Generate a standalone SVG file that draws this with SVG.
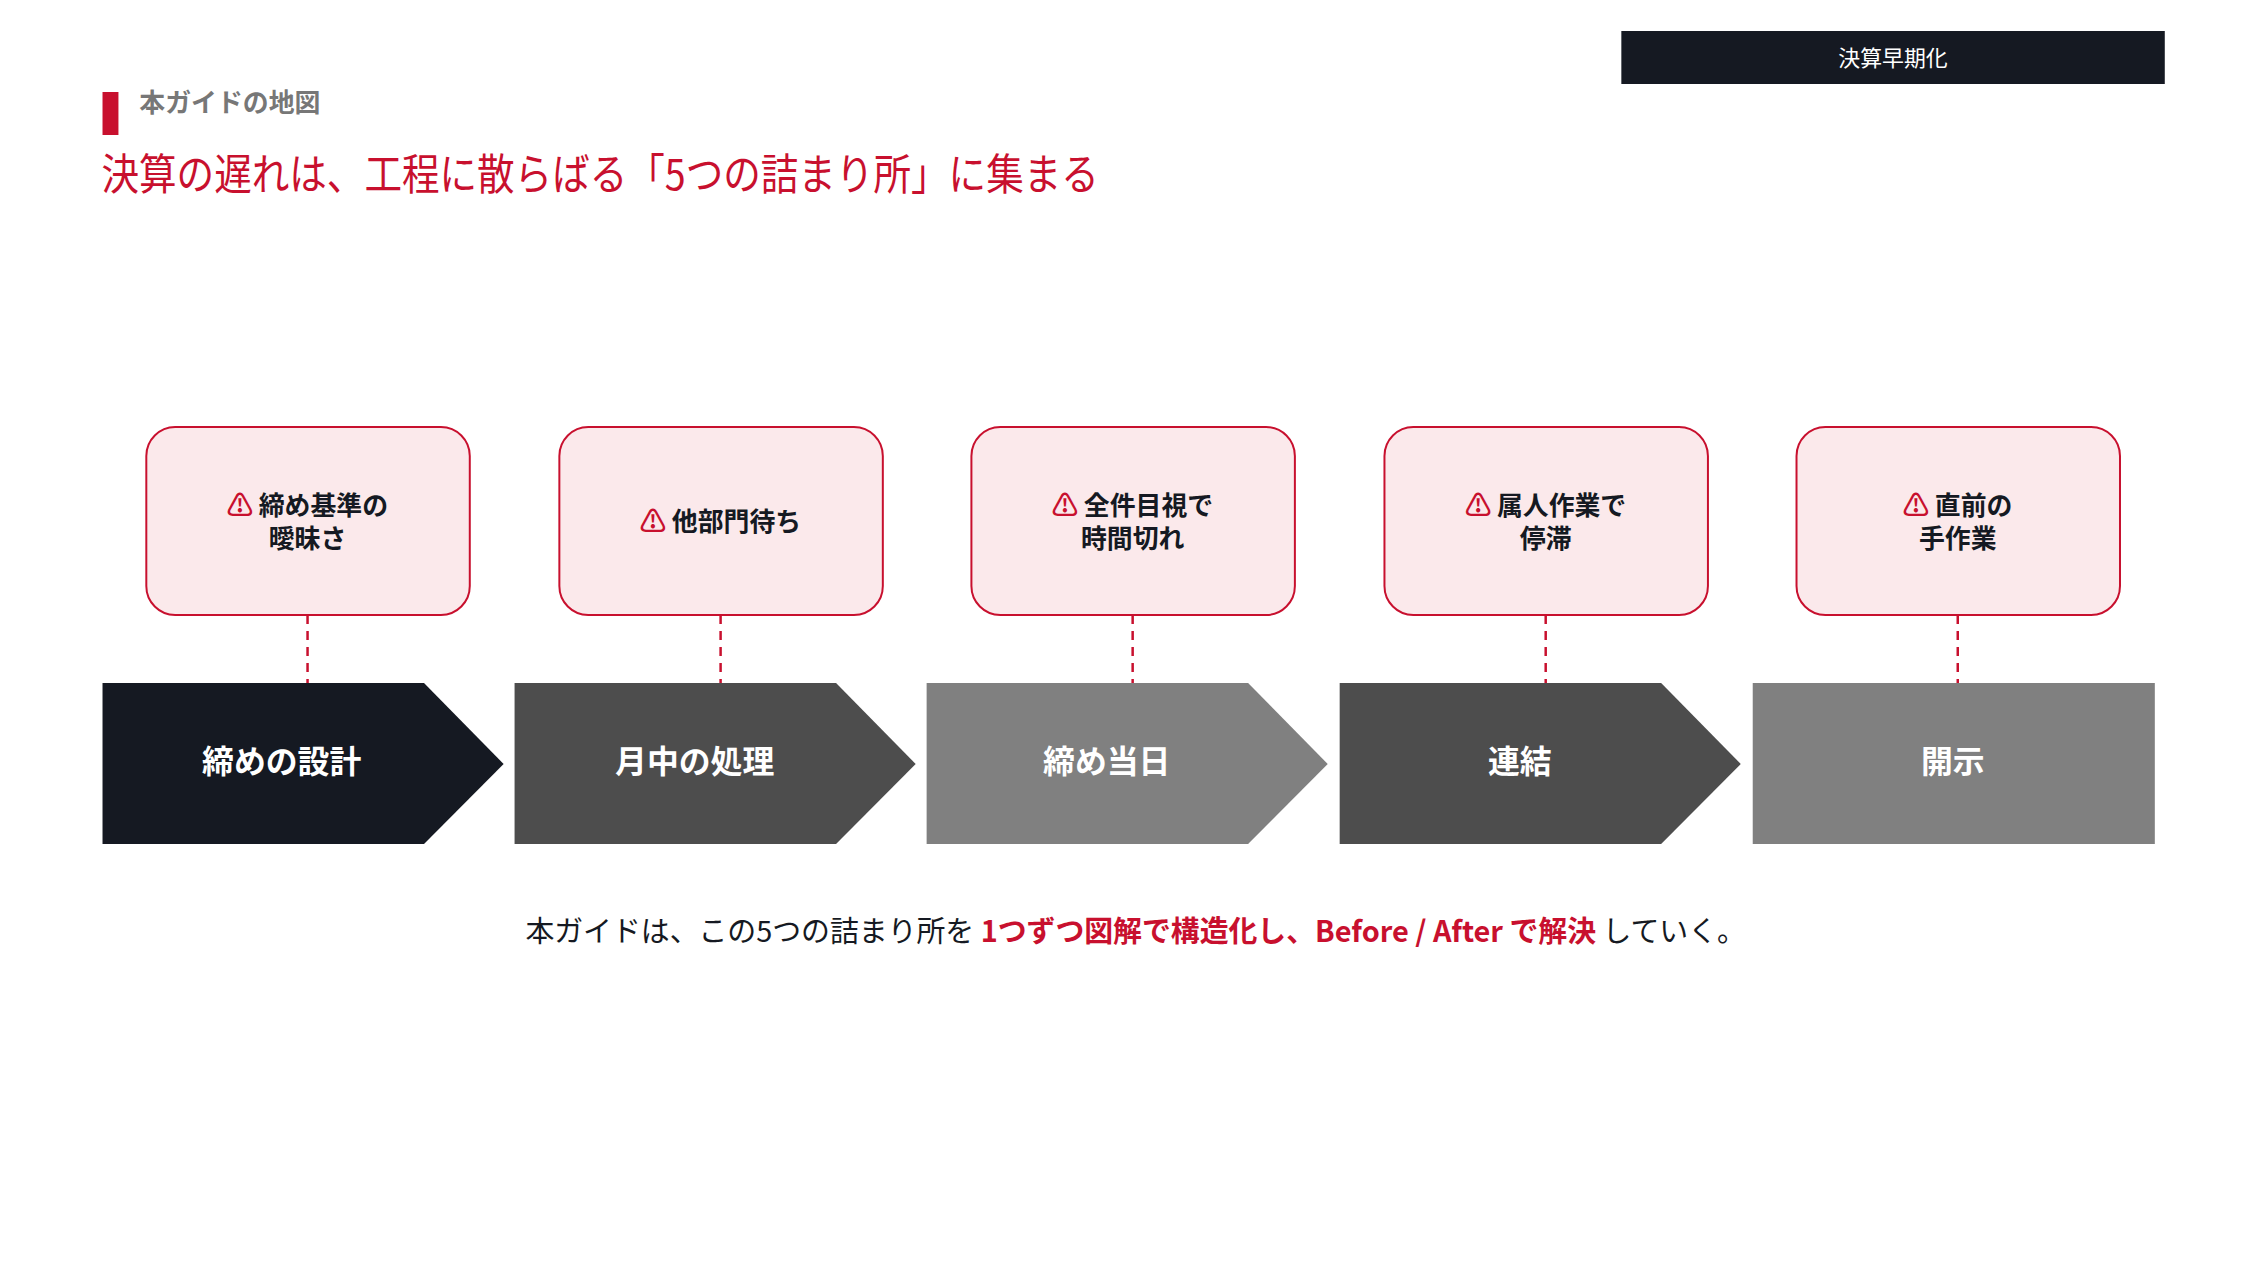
<svg xmlns="http://www.w3.org/2000/svg" width="2267" height="1275" viewBox="0 0 2267 1275">
<style>
text{font-family:"Noto Sans CJK JP","Noto Sans",sans-serif}
.box{fill:#FBE9EB;stroke:#C8102E;stroke-width:2}
.bt{font-size:26px;font-weight:700;fill:#151922;text-anchor:middle}
.warn{fill:#C8102E}
.ct{font-size:32px;font-weight:700;fill:#fff;text-anchor:middle}
.dash{stroke:#C8102E;stroke-width:2.5;stroke-dasharray:9 7}
</style>
<rect width="2267" height="1275" fill="#fff"/>
<g transform="scale(0.9953 1)">
<rect x="103" y="92" width="16" height="43" fill="#C8102E"/>
<text x="140" y="112" font-size="26" font-weight="700" fill="#777">本ガイドの地図</text>
<text x="102" y="190" font-size="43" fill="#C8102E" textLength="1002" lengthAdjust="spacingAndGlyphs">決算の遅れは、工程に散らばる「5つの詰まり所」に集まる</text>
<g id="banner"><rect x="1629" y="31" width="546" height="53" fill="#151922"/><text x="1902" y="66" font-size="22" fill="#fff" text-anchor="middle">決算早期化</text></g>
<g id="connectors">
<line class="dash" x1="309" y1="615" x2="309" y2="683"/>
<line class="dash" x1="724" y1="615" x2="724" y2="683"/>
<line class="dash" x1="1138" y1="615" x2="1138" y2="683"/>
<line class="dash" x1="1553" y1="615" x2="1553" y2="683"/>
<line class="dash" x1="1967" y1="615" x2="1967" y2="683"/>
</g>
<g id="b1"><rect class="box" x="147" y="427" width="325" height="188" rx="29"/><text class="bt" x="309" y="515"><tspan class="warn">⚠</tspan> 締め基準の</text><text class="bt" x="309" y="548">曖昧さ</text></g>
<g id="b2"><rect class="box" x="562" y="427" width="325" height="188" rx="29"/><text class="bt" x="724" y="531"><tspan class="warn">⚠</tspan> 他部門待ち</text></g>
<g id="b3"><rect class="box" x="976" y="427" width="325" height="188" rx="29"/><text class="bt" x="1138" y="515"><tspan class="warn">⚠</tspan> 全件目視で</text><text class="bt" x="1138" y="548">時間切れ</text></g>
<g id="b4"><rect class="box" x="1391" y="427" width="325" height="188" rx="29"/><text class="bt" x="1553" y="515"><tspan class="warn">⚠</tspan> 属人作業で</text><text class="bt" x="1553" y="548">停滞</text></g>
<g id="b5"><rect class="box" x="1805" y="427" width="325" height="188" rx="29"/><text class="bt" x="1967" y="515"><tspan class="warn">⚠</tspan> 直前の</text><text class="bt" x="1967" y="548">手作業</text></g>
<g id="c1"><path d="M103 683H426L506 764L426 844H103Z" fill="#151922"/><text class="ct" x="283" y="773">締めの設計</text></g>
<g id="c2"><path d="M517 683H840L920 764L840 844H517Z" fill="#4D4D4D"/><text class="ct" x="698" y="773">月中の処理</text></g>
<g id="c3"><path d="M931 683H1254L1334 764L1254 844H931Z" fill="#808080"/><text class="ct" x="1112" y="773">締め当日</text></g>
<g id="c4"><path d="M1346 683H1669L1749 764L1669 844H1346Z" fill="#4D4D4D"/><text class="ct" x="1527" y="773">連結</text></g>
<g id="c5"><rect x="1761" y="683" width="404" height="161" fill="#808080"/><text class="ct" x="1962" y="773">開示</text></g>
<text x="1141" y="942" font-size="29" fill="#151922" text-anchor="middle">本ガイドは、この5つの詰まり所を <tspan fill="#C8102E" font-weight="700">1つずつ図解で構造化し、Before / After で解決</tspan> していく。</text>
</g>
</svg>
